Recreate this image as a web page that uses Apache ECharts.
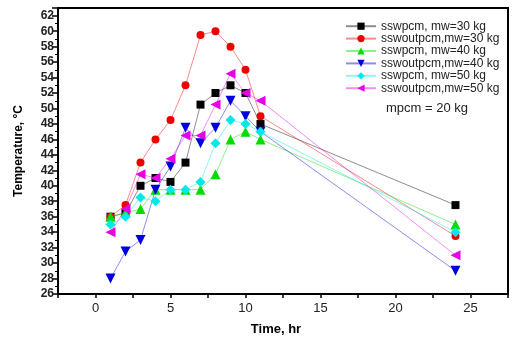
<!DOCTYPE html>
<html><head><meta charset="utf-8">
<script src="https://cdn.jsdelivr.net/npm/echarts@6/dist/echarts.min.js"></script>
<style>html,body{margin:0;padding:0;background:#fff}#c{width:515px;height:341px}</style>
</head><body><div id="c"></div>
<script>
var hours = [1, 2, 3, 4, 5, 6, 7, 8, 9, 10, 11, 24];
var seriesNames = ['sswpcm, mw=30 kg', 'sswoutpcm,mw=30 kg', 'sswpcm, mw=40 kg', 'sswoutpcm,mw=40 kg', 'sswpcm, mw=50 kg', 'sswoutpcm,mw=50 kg'];
var sswpcm30    = [36, 36.5, 40, 41, 40.5, 43, 50.5, 52, 53, 52, 48, 37.5];
var sswoutpcm30 = [36, 37.5, 43, 46, 48.5, 53, 59.5, 60, 58, 55, 49, 33.5];
var sswpcm40    = [36, 36.5, 37, 39.5, 39.5, 39.5, 39.5, 41.5, 46, 47, 46, 35];
var sswoutpcm40 = [28, 31.5, 33, 39.5, 42.5, 47.5, 45.5, 47.5, 51, 49, 47, 29];
var sswpcm50    = [35, 36, 38.5, 38, 39.5, 39.5, 40.5, 45.5, 48.5, 48, 47, 34];
var sswoutpcm50 = [34, 37, 41.5, 41, 43.5, 46.5, 46.5, 50.5, 54.5, 52, 51, 31];
var xTickLabels = ['0', '5', '10', '15', '20', '25'];
var yTickLabels = ['26','28','30','32','34','36','38','40','42','44','46','48','50','52','54','56','58','60','62'];

var allData = [sswpcm30, sswoutpcm30, sswpcm40, sswoutpcm40, sswpcm50, sswoutpcm50];
var colors = ['#000000', '#ee0000', '#00dd00', '#0000dd', '#00e8e8', '#e600e6'];
var symbols = ['rect', 'circle', 'triangle', 'triangle', 'diamond', 'triangle'];
var rotates = [0, 0, 0, 180, 0, 90];
var sizes = [8, 8, 10, 10, 10, 10];

function pairs(d) { return hours.map(function (h, i) { return [h, d[i]]; }); }

var series = allData.map(function (d, i) {
  return {
    name: seriesNames[i], type: 'line', data: pairs(d),
    symbol: symbols[i], symbolSize: sizes[i], symbolRotate: rotates[i],
    itemStyle: { color: colors[i] },
    lineStyle: { color: colors[i], width: 1, opacity: 0.45 },
    emphasis: { disabled: true }, animation: false, z: 2 + i
  };
});

var chart = echarts.init(document.getElementById('c'));
chart.setOption({
  animation: false,
  grid: { left: 58, top: 8, right: 7, bottom: 43, show: true, borderColor: '#000', borderWidth: 2, backgroundColor: 'transparent' },
  legend: {
    orient: 'vertical', left: 340, top: 15, itemWidth: 30, itemHeight: 9, itemGap: 0,
    data: seriesNames,
    textStyle: { fontFamily: 'Liberation Sans, Arial', fontSize: 12, color: '#222', lineHeight: 12.4 },
    selectedMode: false
  },
  xAxis: {
    type: 'value', min: -2.5, max: 27.5, interval: 2.5,
    name: 'Time, hr', nameLocation: 'middle', nameGap: 29,
    nameTextStyle: { fontFamily: 'Liberation Sans, Arial', fontSize: 13, fontWeight: 'bold', color: '#000', padding: [0, 14, 0, 0] },
    axisLine: { onZero: false, lineStyle: { color: '#000', width: 2 } },
    axisTick: { show: true, length: 4, lineStyle: { color: '#000', width: 1.5 } },
    axisLabel: {
      fontFamily: 'Liberation Sans, Arial', fontSize: 13, color: '#222', margin: 8,
      formatter: function (v) { var s = String(Math.round(v)); return (Math.abs(v % 5) < 1e-6 && xTickLabels.indexOf(s) >= 0) ? s : ''; }
    },
    splitLine: { show: false }
  },
  yAxis: {
    type: 'value', min: 26, max: 63, interval: 2,
    name: 'Temperature, °C', nameLocation: 'middle', nameGap: 33,
    nameTextStyle: { fontFamily: 'Liberation Sans, Arial', fontSize: 12, fontWeight: 'bold', color: '#000' },
    axisLine: { onZero: false, lineStyle: { color: '#000', width: 2 } },
    axisTick: { show: true, inside: false, length: 6, lineStyle: { color: '#000', width: 1.5 } },
    minorTick: { show: true, splitNumber: 2, length: 3, lineStyle: { color: '#000', width: 1 } },
    axisLabel: {
      fontFamily: 'Liberation Sans, Arial', fontSize: 12, fontWeight: 'bold', color: '#222', margin: 4,
      formatter: function (v) { var s = String(v); return yTickLabels.indexOf(s) >= 0 ? s : ''; }
    },
    splitLine: { show: false }
  },
  graphic: [{
    type: 'text', left: 386, top: 102,
    style: { text: 'mpcm = 20 kg', font: '13px "Liberation Sans", Arial', fill: '#222' }
  }],
  series: series
});
</script></body></html>
